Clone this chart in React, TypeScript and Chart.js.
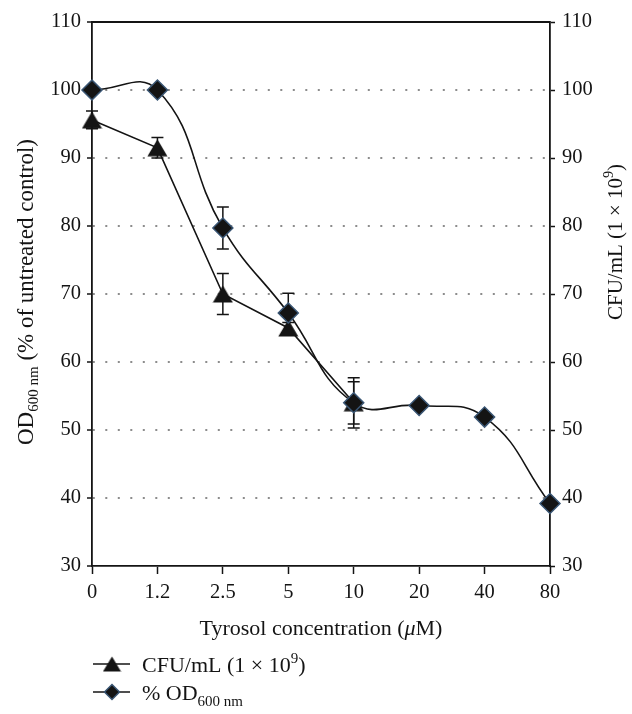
import React, { useEffect, useRef } from 'react';
import { Chart, registerables } from 'chart.js';

Chart.register(...registerables);

// ---- data ----
const categories = ['0', '1.2', '2.5', '5', '10', '20', '40', '80'];
const cfuValues = [95.6, 91.5, 70.0, 65.0, 54.0, null, null, null];
const cfuErrors = [1.3, 1.5, 3.0, 0.8, 3.7, 0, 0, 0];
const odValues = [100, 100, 79.7, 67.2, 54.0, 53.6, 51.9, 39.2];
const odErrors = [0, 0, 3.1, 2.9, 3.1, 0, 0, 0];
const yMin = 30;
const yMax = 110;
const yStep = 10;

const xTitleParts = ['Tyrosol concentration (', 'μ', 'M)'];
const leftTitleParts = ['OD', '600 nm', ' (% of untreated control)'];
const rightTitleParts = ['CFU/mL (1 × 10', '9', ')'];
const legendCfuParts = ['CFU/mL (1 × 10', '9', ')'];
const legendOdParts = ['% OD', '600 nm'];

// ---- style ----
const FONT = '"Liberation Serif", "Times New Roman", serif';
const INK = '#141414';
const DIAMOND_EDGE = '#3a5674';
const GRID = '#8c8c8c';

type Seg = { t: string; size: number; dy?: number; italic?: boolean };

function setFont(ctx: CanvasRenderingContext2D, s: Seg) {
  ctx.font = `${s.italic ? 'italic ' : ''}${s.size}px ${FONT}`;
}
function segsWidth(ctx: CanvasRenderingContext2D, segs: Seg[]) {
  let w = 0;
  for (const s of segs) {
    setFont(ctx, s);
    w += ctx.measureText(s.t).width;
  }
  return w;
}
function drawSegs(ctx: CanvasRenderingContext2D, segs: Seg[], x: number, y: number) {
  let cx = x;
  for (const s of segs) {
    setFont(ctx, s);
    ctx.fillText(s.t, cx, y + (s.dy || 0));
    cx += ctx.measureText(s.t).width;
  }
}

function makeTriangle(w: number, h: number) {
  const c = document.createElement('canvas');
  c.width = w;
  c.height = h;
  const g = c.getContext('2d')!;
  g.fillStyle = INK;
  g.beginPath();
  g.moveTo(w / 2, 0.5);
  g.lineTo(w - 0.5, h - 0.5);
  g.lineTo(0.5, h - 0.5);
  g.closePath();
  g.fill();
  return c;
}

function drawDiamond(ctx: CanvasRenderingContext2D, x: number, y: number, r: number) {
  ctx.beginPath();
  ctx.moveTo(x - r, y);
  ctx.lineTo(x, y - r);
  ctx.lineTo(x + r, y);
  ctx.lineTo(x, y + r);
  ctx.closePath();
  ctx.fillStyle = INK;
  ctx.fill();
  ctx.lineWidth = 1.5;
  ctx.strokeStyle = DIAMOND_EDGE;
  ctx.stroke();
}

export default function App() {
  const ref = useRef<HTMLCanvasElement>(null);

  useEffect(() => {
    document.body.style.margin = '0';
    const tri = makeTriangle(21, 18);
    const triSmall = makeTriangle(19, 16);
    const errorSets = [cfuErrors, odErrors];
    const valueSets = [cfuValues, odValues];

    const errorBars = {
      id: 'errorBars',
      beforeDatasetsDraw(chart: any) {
        const ctx = chart.ctx as CanvasRenderingContext2D;
        const area = chart.chartArea;
        ctx.save();
        // top frame line
        ctx.strokeStyle = INK;
        ctx.lineWidth = 1.8;
        ctx.beginPath();
        ctx.moveTo(area.left, area.top);
        ctx.lineTo(area.right, area.top);
        ctx.stroke();

        ctx.lineWidth = 1.5;
        for (let d = 0; d < errorSets.length; d++) {
          const meta = chart.getDatasetMeta(d);
          const yScale = chart.scales[meta.yAxisID];
          errorSets[d].forEach((e, i) => {
            const v = valueSets[d][i];
            if (v == null || !e) return;
            const x = meta.data[i].x;
            const yt = yScale.getPixelForValue(v + e);
            const yb = yScale.getPixelForValue(v - e);
            ctx.beginPath();
            ctx.moveTo(x, yt);
            ctx.lineTo(x, yb);
            ctx.moveTo(x - 6, yt);
            ctx.lineTo(x + 6, yt);
            ctx.moveTo(x - 6, yb);
            ctx.lineTo(x + 6, yb);
            ctx.stroke();
          });
        }
        ctx.restore();
      },
    };

    const texts = {
      id: 'texts',
      afterDraw(chart: any) {
        const ctx = chart.ctx as CanvasRenderingContext2D;
        const area = chart.chartArea;
        ctx.save();
        ctx.fillStyle = INK;
        ctx.textBaseline = 'alphabetic';
        ctx.textAlign = 'left';

        // x axis title
        const xs: Seg[] = [
          { t: xTitleParts[0], size: 22 },
          { t: xTitleParts[1], size: 22, italic: true },
          { t: xTitleParts[2], size: 22 },
        ];
        const cx = (area.left + area.right) / 2;
        drawSegs(ctx, xs, cx - segsWidth(ctx, xs) / 2, 635);

        // left y title
        const ls: Seg[] = [
          { t: leftTitleParts[0], size: 23 },
          { t: leftTitleParts[1], size: 15, dy: 5 },
          { t: leftTitleParts[2], size: 23 },
        ];
        ctx.save();
        ctx.translate(33, 445);
        ctx.rotate(-Math.PI / 2);
        drawSegs(ctx, ls, 0, 0);
        ctx.restore();

        // right y title
        const rs: Seg[] = [
          { t: rightTitleParts[0], size: 21 },
          { t: rightTitleParts[1], size: 14, dy: -9 },
          { t: rightTitleParts[2], size: 21 },
        ];
        ctx.save();
        ctx.translate(622, 320);
        ctx.rotate(-Math.PI / 2);
        drawSegs(ctx, rs, 0, 0);
        ctx.restore();

        // legend
        ctx.strokeStyle = INK;
        ctx.lineWidth = 1.6;
        ctx.beginPath();
        ctx.moveTo(93, 664);
        ctx.lineTo(130, 664);
        ctx.stroke();
        ctx.drawImage(triSmall, 112 - triSmall.width / 2, 664 - triSmall.height / 2);
        ctx.fillStyle = INK;
        drawSegs(
          ctx,
          [
            { t: legendCfuParts[0], size: 22 },
            { t: legendCfuParts[1], size: 15, dy: -9 },
            { t: legendCfuParts[2], size: 22 },
          ],
          142,
          672
        );

        ctx.strokeStyle = INK;
        ctx.lineWidth = 1.6;
        ctx.beginPath();
        ctx.moveTo(93, 692);
        ctx.lineTo(130, 692);
        ctx.stroke();
        drawDiamond(ctx, 112, 692, 7.5);
        ctx.fillStyle = INK;
        drawSegs(
          ctx,
          [
            { t: legendOdParts[0], size: 22 },
            { t: legendOdParts[1], size: 15, dy: 6 },
          ],
          142,
          700
        );
        ctx.restore();
      },
    };

    const tickFont = { family: FONT, size: 20.5 };

    const chart = new Chart(ref.current!, {
      type: 'line',
      data: {
        labels: categories,
        datasets: [
          {
            label: 'CFU/mL (1 × 10^9)',
            data: cfuValues,
            yAxisID: 'y2',
            borderColor: INK,
            borderWidth: 1.6,
            pointStyle: tri as any,
            pointRadius: 10,
            tension: 0,
            spanGaps: false,
            order: 1,
          },
          {
            label: '% OD600 nm',
            data: odValues,
            yAxisID: 'y',
            borderColor: INK,
            borderWidth: 1.6,
            pointStyle: 'rectRot',
            pointRadius: 10,
            pointBackgroundColor: INK,
            pointBorderColor: DIAMOND_EDGE,
            pointBorderWidth: 1.5,
            tension: 0.45,
            order: 0,
          },
        ],
      },
      options: {
        responsive: false,
        animation: false,
        devicePixelRatio: 1,
        layout: { padding: { top: 22, left: 0, right: 0, bottom: 0 } },
        plugins: {
          legend: { display: false },
          tooltip: { enabled: false },
          title: { display: false },
        },
        scales: {
          x: {
            type: 'category',
            offset: false,
            grid: {
              display: true,
              drawOnChartArea: false,
              drawTicks: true,
              tickLength: 8,
              tickColor: INK,
              tickWidth: 1.5,
            },
            border: { display: true, color: INK, width: 1.8 },
            ticks: {
              font: tickFont,
              color: INK,
              padding: 6,
              autoSkip: false,
              maxRotation: 0,
            },
            afterFit: (s: any) => {
              s.height = 148;
            },
          },
          y: {
            position: 'left',
            min: yMin,
            max: yMax,
            ticks: { stepSize: yStep, font: tickFont, color: INK, padding: 6 },
            grid: {
              color: (c: any) =>
                c.tick && (c.tick.value === yMin || c.tick.value === yMax) ? 'rgba(0,0,0,0)' : GRID,
              lineWidth: 2,
              drawTicks: true,
              tickLength: 5,
              tickColor: INK,
              tickWidth: 1.5,
              tickBorderDash: [],
            },
            border: { display: true, color: INK, width: 1.8, dash: [2, 10.5], dashOffset: 0 },
            afterFit: (s: any) => {
              s.width = 92;
            },
          },
          y2: {
            position: 'right',
            min: yMin,
            max: yMax,
            ticks: { stepSize: yStep, font: tickFont, color: INK, padding: 7 },
            grid: {
              drawOnChartArea: false,
              drawTicks: true,
              tickLength: 5,
              tickColor: INK,
              tickWidth: 1.5,
            },
            border: { display: true, color: INK, width: 1.8 },
            afterFit: (s: any) => {
              s.width = 82;
            },
          },
        },
      } as any,
      plugins: [errorBars, texts],
    });
    return () => chart.destroy();
  }, []);

  return (
    <div style={{ position: 'fixed', left: 0, top: 0, width: 632, height: 714, background: '#fff' }}>
      <canvas ref={ref} width={632} height={714} style={{ display: 'block' }} />
    </div>
  );
}
